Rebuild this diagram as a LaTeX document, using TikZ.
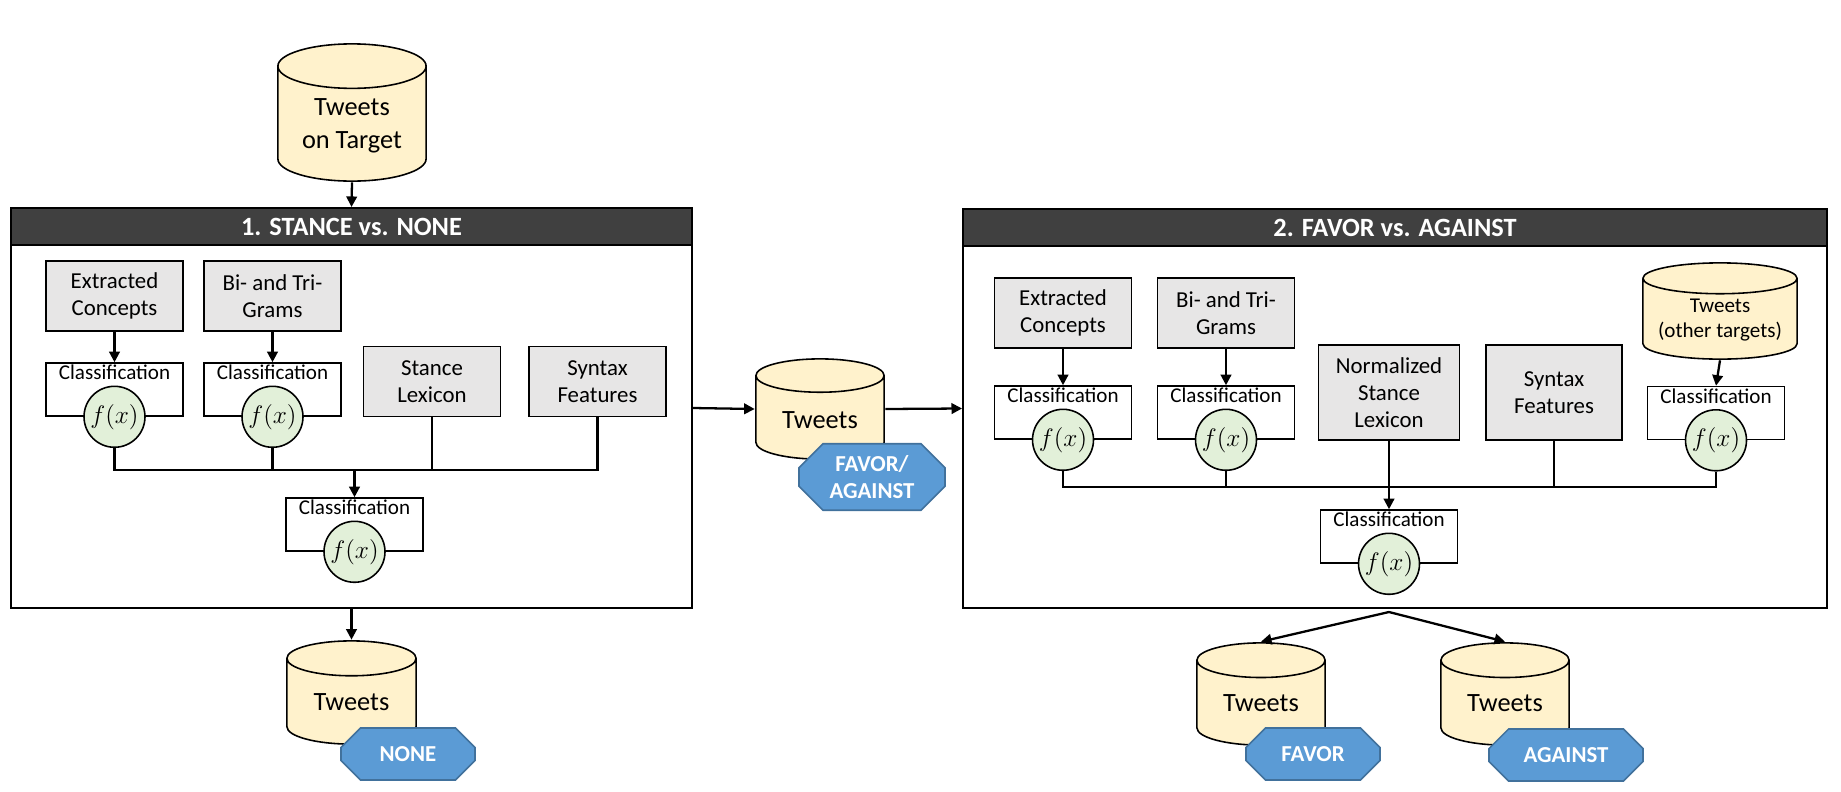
\documentclass[tikz,border=0pt]{standalone}
\usepackage{fontspec}
\setmainfont{Carlito}
\usetikzlibrary{shapes.misc,arrows.meta,calc}

\definecolor{headgray}{HTML}{404040}
\definecolor{featgray}{HTML}{E7E6E6}
\definecolor{dbyellow}{HTML}{FFF2CC}
\definecolor{fxgreen}{HTML}{E2F0D9}
\definecolor{tagblue}{HTML}{5B9BD5}
\definecolor{tagborder}{HTML}{41719C}

\begin{document}
\begin{tikzpicture}[x=0.02cm, y=-0.02cm,
    link/.style={line width=1.3pt},
    arrow/.style={link, -{Triangle[length=6pt,width=6pt]}},
    stagebox/.style={draw, line width=1.2pt, fill=white},
    stagehead/.style={draw, line width=1.2pt, fill=headgray, text=white, anchor=north,
      minimum height=0.74cm, font=\fontsize{15}{18}\selectfont\bfseries},
    feature/.style={draw, line width=0.9pt, fill=featgray, minimum width=2.74cm,
      minimum height=1.4cm, align=center, font=\fontsize{13}{15.5}\selectfont},
    classbox/.style={draw, line width=0.9pt, fill=white, minimum width=2.74cm, minimum height=1.06cm,
      label={[anchor=north, inner sep=1.5pt, font=\fontsize{12}{14}\selectfont]north:Classification}},
    fx/.style={circle, draw, line width=0.9pt, fill=fxgreen, minimum size=1.22cm, inner sep=0pt,
      font=\fontsize{15}{17}\selectfont},
    % database drum, #1 = ratio of the end ellipse
    drum/.style={fill=white, inner sep=0pt,
      path picture={
        \draw[fill=dbyellow, line width=0.9pt]
          let \p1=([shift={(0.5pt,-0.5pt)}]path picture bounding box.north west),
              \p2=([shift={(-0.5pt,0.5pt)}]path picture bounding box.south east),
              \n1={(\x2-\x1)/2}, \n2={\n1*#1} in
          (\x1,{\y1-\n2}) -- (\x1,{\y2+\n2})
          arc[start angle=180, end angle=360, x radius=\n1, y radius=\n2]
          -- (\x2,{\y1-\n2})
          arc[start angle=0, end angle=180, x radius=\n1, y radius=\n2]
          (\x1,{\y1-\n2})
          arc[start angle=180, end angle=360, x radius=\n1, y radius=\n2];
      }},
    drumtext/.style={align=center, inner sep=0pt, font=\fontsize{15}{19}\selectfont},
    tag/.style={chamfered rectangle, chamfered rectangle xsep=0.24cm, chamfered rectangle ysep=0.24cm,
      draw=tagborder, line width=0.9pt, fill=tagblue, text=white, align=center,
      inner sep=0pt, font=\fontsize{13}{15}\selectfont\bfseries}
  ]
  \useasboundingbox (0,0) rectangle (1841,791);

  % Stage 1
  \node[drum=0.3, minimum width=3cm, minimum height=2.78cm,
    label={[drumtext, yshift=-7.7pt]center:Tweets\\on Target}] (target) at (352,112.5) {};
  \node[stagebox, minimum width=13.62cm, minimum height=8cm] (stage1) at (351.5,408) {};
  \node[stagehead, minimum width=13.62cm] (head1) at (stage1.north) {1. STANCE vs. NONE};

  \node[feature] (concepts1) at (114.5,296) {Extracted\\Concepts};
  \node[feature] (grams1) at (272.5,296) {Bi- and Tri-\\Grams};
  \node[classbox] (class1) at (114.5,389.5) {};
  \node[fx] (fx1) at (class1.south) {$f(x)$};
  \node[classbox] (class2) at (272.5,389.5) {};
  \node[fx] (fx2) at (class2.south) {$f(x)$};
  \node[feature] (lexicon1) at (432,381.5) {Stance\\Lexicon};
  \node[feature] (syntax1) at (597.5,381.5) {Syntax\\Features};
  \node[classbox] (class3) at (354.5,524.5) {};
  \node[fx] (fx3) at (class3.south) {$f(x)$};

  \draw[arrow] (target.south) -- (stage1.north);
  \draw[arrow] (concepts1.south) -- (class1.north);
  \draw[arrow] (grams1.south) -- (class2.north);
  \coordinate (bus1) at (354.5,470);
  \draw[link] (fx1.south) |- (bus1) -| (syntax1.south);
  \draw[link] (fx2.south) -- (fx2.south |- bus1);
  \draw[link] (lexicon1.south) -- (lexicon1.south |- bus1);
  \draw[arrow] (bus1) -- (class3.north);

  % Output NONE
  \node[drum=0.27, minimum width=2.62cm, minimum height=2.1cm,
    label={[drumtext, yshift=-5.4pt]center:Tweets}] (none) at (351.5,692.5) {};
  \node[tag, minimum width=2.68cm, minimum height=1.04cm] (nonetag) at (408,754) {NONE};
  \draw[arrow] (stage1.south) -- (none.north);

  % Tweets with stance
  \node[drum=0.26, minimum width=2.6cm, minimum height=2.04cm,
    label={[drumtext, yshift=-6.2pt]center:Tweets}] (stance) at (820,409) {};
  \node[tag, minimum width=2.92cm, minimum height=1.24cm] (stancetag) at (872,477) {FAVOR/\\AGAINST};

  % Stage 2
  \node[stagebox, minimum width=17.28cm, minimum height=7.98cm] (stage2) at (1395,408.5) {};
  \node[stagehead, minimum width=17.28cm] (head2) at (stage2.north) {2. FAVOR vs. AGAINST};

  \draw[arrow] (stage1.east) -- (stance.west);
  \draw[arrow] (stance.east) -- (stage2.west);

  \node[feature] (concepts2) at (1063,313) {Extracted\\Concepts};
  \node[feature] (grams2) at (1226,313) {Bi- and Tri-\\Grams};
  \node[classbox] (class4) at (1063,412.5) {};
  \node[fx] (fx4) at (class4.south) {$f(x)$};
  \node[classbox] (class5) at (1226,412.5) {};
  \node[fx] (fx5) at (class5.south) {$f(x)$};
  \node[feature, minimum width=2.82cm, minimum height=1.9cm] (lexicon2) at (1389,392.5) {Normalized\\Stance\\Lexicon};
  \node[feature, minimum width=2.72cm, minimum height=1.9cm] (syntax2) at (1554,392.5) {Syntax\\Features};
  \node[drum=0.2, minimum width=3.12cm, minimum height=1.96cm,
    label={[drumtext, yshift=-5.1pt, font=\fontsize{12}{14.5}\selectfont]center:Tweets\\(other targets)}]
    (others) at (1720,311) {};
  \node[classbox] (class6) at (1716,413) {};
  \node[fx] (fx6) at (class6.south) {$f(x)$};
  \node[classbox] (class7) at (1389,536.5) {};
  \node[fx] (fx7) at (class7.south) {$f(x)$};

  \draw[arrow] (concepts2.south) -- (class4.north);
  \draw[arrow] (grams2.south) -- (class5.north);
  \draw[arrow] (others.south) -- (class6.north);
  \coordinate (bus2) at (1389,487);
  \draw[link] (fx4.south) |- (bus2) -| (fx6.south);
  \draw[link] (fx5.south) -- (fx5.south |- bus2);
  \draw[link] (syntax2.south) -- (syntax2.south |- bus2);
  \draw[arrow] (lexicon2.south) -- (class7.north);

  % Outputs FAVOR and AGAINST
  \node[drum=0.27, minimum width=2.6cm, minimum height=2.08cm,
    label={[drumtext, yshift=-5.1pt]center:Tweets}] (favor) at (1261,694) {};
  \node[tag, minimum width=2.68cm, minimum height=1.04cm] (favortag) at (1313,754) {FAVOR};
  \node[drum=0.27, minimum width=2.6cm, minimum height=2.08cm,
    label={[drumtext, yshift=-5.1pt]center:Tweets}] (against) at (1505,694) {};
  \node[tag, minimum width=3.08cm, minimum height=1.04cm] (againsttag) at (1566,755) {AGAINST};

  \coordinate (split) at (1389,612);
  \draw[arrow] (split) -- (favor.north);
  \draw[arrow] (split) -- (against.north);
\end{tikzpicture}
\end{document}
